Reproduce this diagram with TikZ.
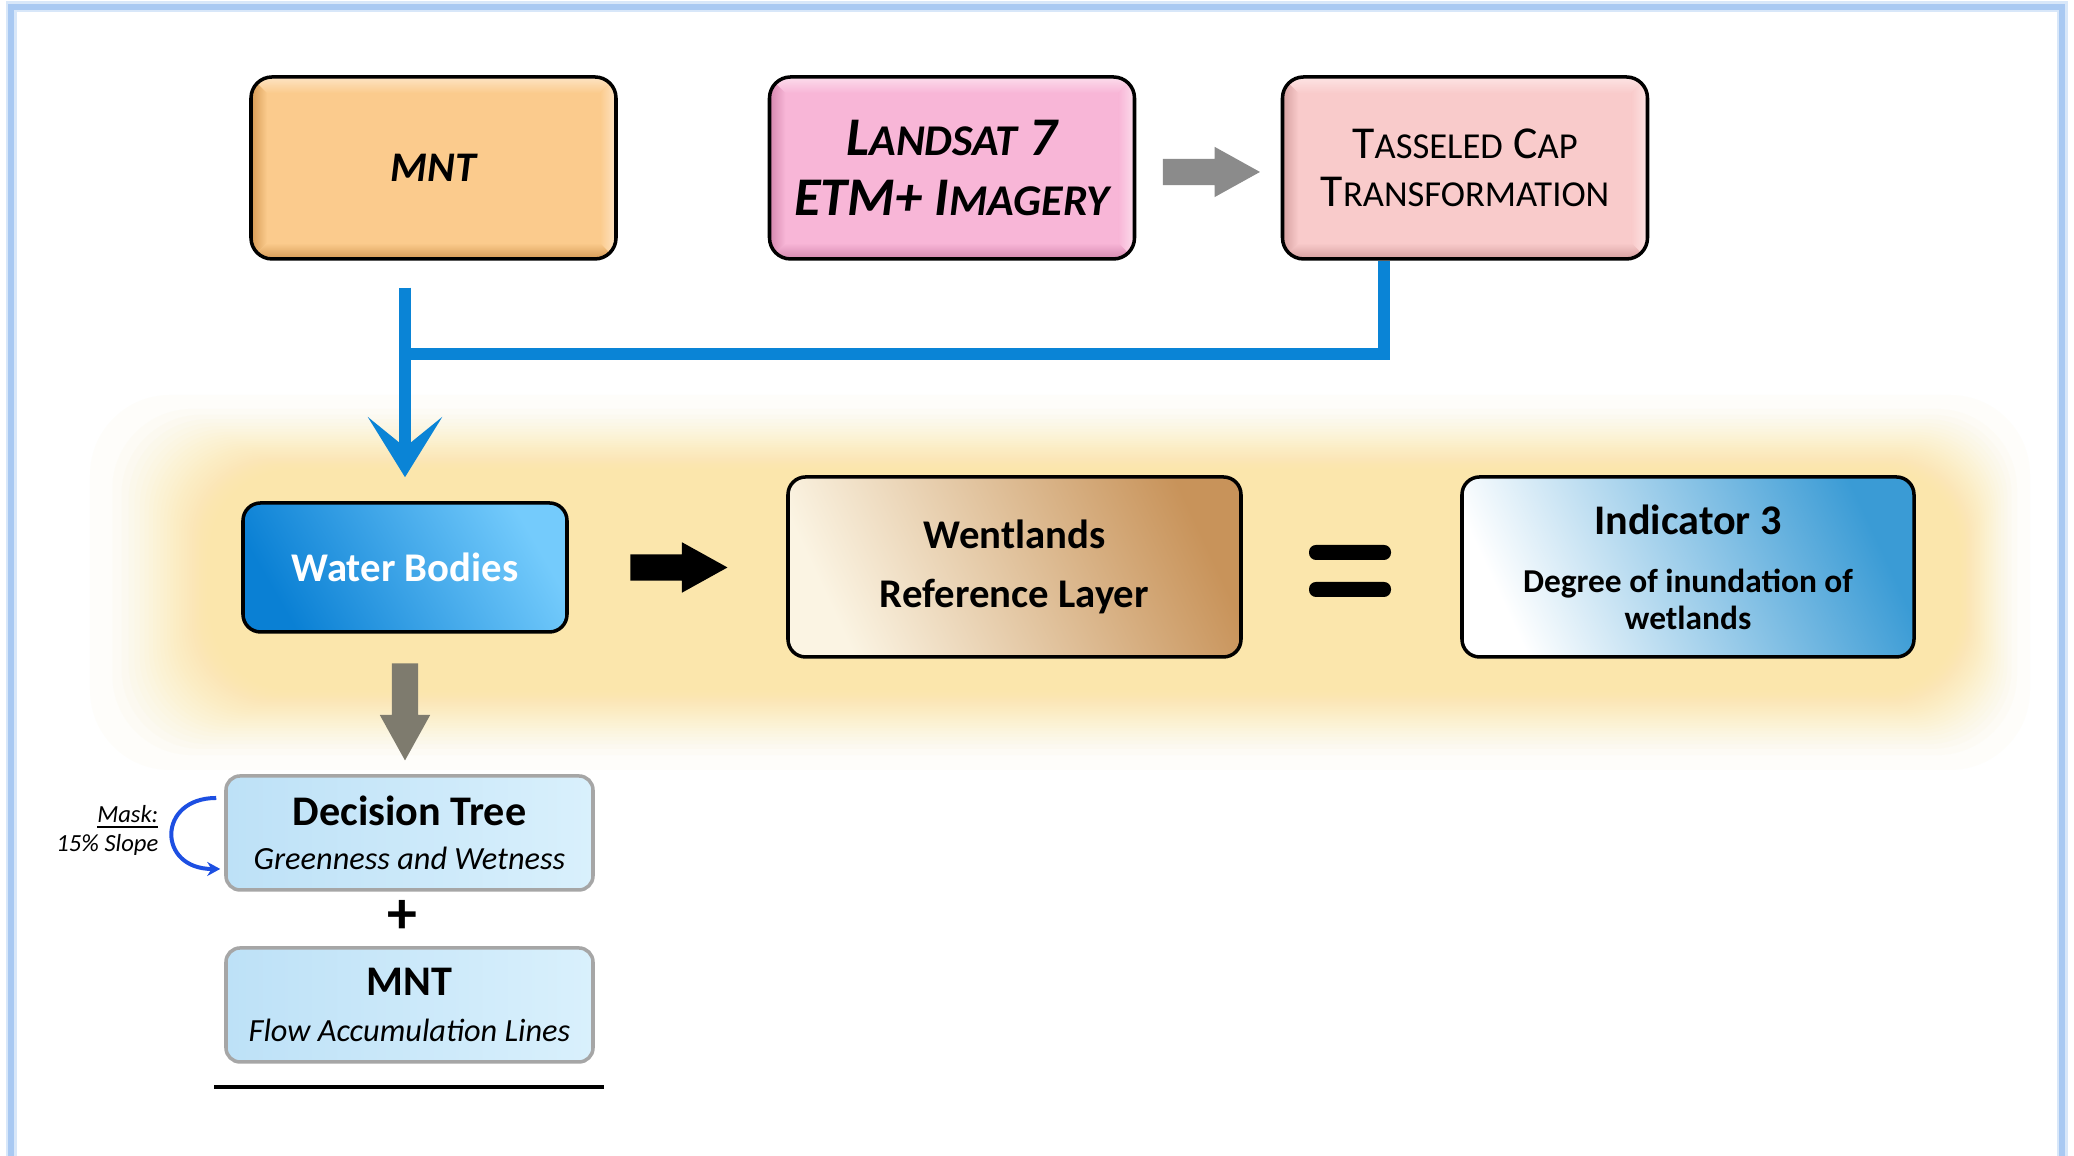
\documentclass[tikz,border=0pt]{standalone}
\usepackage{fontspec}
\setmainfont{Carlito}
\usetikzlibrary{
  arrows.meta,
  positioning,
  calc,
  shapes.arrows,
}
\definecolor{framebl}{HTML}{A9C9F2}
\definecolor{glowyel}{HTML}{FBE69E}
\definecolor{flowblue}{HTML}{0A84D6}
\definecolor{maskblue}{HTML}{1D4FE2}
\definecolor{peach}{HTML}{FBCB8D}
\definecolor{peachdk}{HTML}{D69A55}
\definecolor{peachlt}{HTML}{FEE4C4}
\definecolor{pinkbox}{HTML}{F8B6D7}
\definecolor{pinkdk}{HTML}{D487AE}
\definecolor{pinklt}{HTML}{FCDDEC}
\definecolor{rosy}{HTML}{F9CBCB}
\definecolor{rosydk}{HTML}{D59F9F}
\definecolor{rosylt}{HTML}{FDE4E4}
\definecolor{wbdark}{HTML}{0A80D4}
\definecolor{wbmid}{HTML}{1698E6}
\definecolor{wblight}{HTML}{74CBFC}
\definecolor{tancream}{HTML}{FBF4E3}
\definecolor{tandk}{HTML}{C8935A}
\definecolor{indblue}{HTML}{3A9BD5}
\definecolor{paleblue}{HTML}{BDE1F7}
\definecolor{paleblue2}{HTML}{D9F0FC}
\definecolor{boxgrey}{HTML}{A6A6A6}
\definecolor{arrgrey}{HTML}{8B8B8B}
\definecolor{olivegrey}{HTML}{7E7B6E}
\newcommand{\lsc}[1]{{\fontsize{12.5}{17}\selectfont #1}}
\newcommand{\tsc}[1]{{\fontsize{10.4}{13.5}\selectfont #1}}
\tikzset{
  >=Stealth,
  bevel/.style n args={3}{
    fill=#1,
    path picture={
      \path (path picture bounding box.south west) coordinate (bsw)
            (path picture bounding box.north east) coordinate (bne);
      \shade[sharp corners, left color=#2, right color=#1]
        (bsw) -- (bsw|-bne) -- ($(bsw|-bne)+(0.16,-0.16)$) -- ($(bsw)+(0.16,0.16)$) -- cycle;
      \shade[sharp corners, top color=#1, bottom color=#2]
        (bsw) -- ($(bsw)+(0.16,0.16)$) -- ($(bne|-bsw)+(-0.16,0.16)$) -- (bne|-bsw) -- cycle;
      \shade[sharp corners, top color=#3, bottom color=#1]
        (bsw|-bne) -- (bne) -- ($(bne)+(-0.16,-0.16)$) -- ($(bsw|-bne)+(0.16,-0.16)$) -- cycle;
      \shade[sharp corners, left color=#1, right color=#3]
        (bne) -- (bne|-bsw) -- ($(bne|-bsw)+(-0.16,0.16)$) -- ($(bne)+(-0.16,-0.16)$) -- cycle;
    }
  },
  topbox/.style={
    draw=black,
    line width=1pt,
    rounded corners=6pt,
    minimum width=3.65cm,
    minimum height=1.82cm,
    inner sep=0pt,
    align=center,
  },
  glossbox/.style={
    draw=black,
    line width=1pt,
    rounded corners=5pt,
    inner sep=0pt,
    align=center,
  },
  palebox/.style={
    draw=boxgrey,
    line width=1pt,
    rounded corners=4pt,
    left color=paleblue,
    right color=paleblue2,
    minimum width=3.67cm,
    minimum height=1.14cm,
    inner sep=0pt,
    align=center,
  },
  blockarrow/.style={
    single arrow,
    fill=#1,
    draw=none,
    anchor=tail,
    minimum height=0.97cm,
    minimum width=0.49cm,
    single arrow head extend=0.12cm,
    single arrow tip angle=58,
    single arrow head indent=0pt,
    inner sep=0.125cm,
  },
  flowline/.style={draw=flowblue, line width=0.12cm},
}

\begin{document}
\begin{tikzpicture}[x=1cm,y=1cm]
  \useasboundingbox (0,0) rectangle (20.74,11.56);
  \fill[white] (0,0) rectangle (20.74,11.56);

  % page frame
  \draw[framebl!45, line width=0.11cm] (0.11,0) -- (0.11,11.49) -- (20.62,11.49) -- (20.62,0);
  \draw[framebl, line width=0.06cm] (0.11,0) -- (0.11,11.49) -- (20.62,11.49) -- (20.62,0);

  % soft yellow glow behind the middle row
  \foreach \i in {0,...,29} {
    \pgfmathsetmacro{\f}{sqrt(\i/29)}
    \fill[glowyel, opacity=0.05, rounded corners=0.8cm]
      (0.90+1.20*\f,3.86+0.80*\f) rectangle (20.30-0.70*\f,7.61-0.75*\f);
  }

  % top row: inputs
  \node[topbox, bevel={peach}{peachdk}{peachlt},
        font=\fontsize{12}{14}\selectfont\bfseries\itshape] (mnt) at (4.335,9.88) {MNT};
  \node[topbox, bevel={pinkbox}{pinkdk}{pinklt},
        font=\fontsize{15.5}{17}\selectfont\bfseries\itshape] (landsat) at (9.52,9.88)
        {L\lsc{ANDSAT} 7\\ETM+ I\lsc{MAGERY}};
  \node[topbox, bevel={rosy}{rosydk}{rosylt},
        font=\fontsize{13}{13.5}\selectfont] (tasseled) at (14.65,9.88)
        {T\tsc{ASSELED} C\tsc{AP}\\T\tsc{RANSFORMATION}};
  \node[blockarrow=arrgrey] (capArrow) at ($(landsat.east)+(0.26,-0.04)$) {};

  % middle row
  \node[glossbox, left color=wbdark, middle color=wbmid, right color=wblight, shading angle=120,
        minimum width=3.24cm, minimum height=1.29cm, text=white,
        font=\fontsize{11.6}{14}\selectfont\bfseries] (water) at (4.05,5.885) {Water Bodies};
  \node[glossbox, left color=tancream, right color=tandk, shading angle=115,
        minimum width=4.53cm, minimum height=1.80cm,
        font=\fontsize{11.6}{17}\selectfont\bfseries] (wetref) at (10.145,5.89)
        {Wentlands\\Reference Layer};
  \node[glossbox, left color=white, right color=indblue, shading angle=115,
        minimum width=4.52cm, minimum height=1.80cm,
        font=\fontsize{9.5}{10.5}\selectfont\bfseries] (indicator) at (16.88,5.89)
        {{\fontsize{12}{14}\selectfont Indicator 3}\\[6pt]Degree of inundation of\\wetlands};
  \node[blockarrow=black] (resArrow) at ($(water.east)+(0.61,0)$) {};

  % equals sign
  \fill[rounded corners=2pt] (13.09,5.96) rectangle (13.91,6.11);
  \fill[rounded corners=2pt] (13.09,5.59) rectangle (13.91,5.74);

  % bottom stack
  \node[palebox, font=\fontsize{9.2}{12.5}\selectfont] (dtree) at (4.095,3.23)
        {{\fontsize{12}{12.5}\selectfont\bfseries Decision Tree}\\\textit{Greenness and Wetness}};
  \node[font=\fontsize{17}{17}\selectfont\bfseries] (plus) at (4.02,2.39) {+};
  \node[palebox, font=\fontsize{9.2}{13}\selectfont] (mntflow) at (4.095,1.51)
        {{\fontsize{12}{13}\selectfont\bfseries MNT}\\\textit{Flow Accumulation Lines}};
  \node[blockarrow=olivegrey, shape border rotate=270] (downArrow)
        at ($(water.south)+(0,-0.29)$) {};
  \draw[line width=0.04cm] (2.14,0.69) -- (6.04,0.69);

  \node[anchor=east, align=right, inner sep=0pt,
        font=\fontsize{7}{8.25}\selectfont\itshape] (mask) at (1.59,3.26)
        {\underline{Mask:}\\15\% Slope};
  \draw[maskblue, line width=0.04cm, -{Stealth[length=0.13cm, width=0.14cm]}]
    ($(dtree.west)+(-0.08,0.35)$) .. controls (1.57,3.58) and (1.57,2.87) .. ($(dtree.west)+(-0.04,-0.36)$);

  % blue feed lines
  \coordinate (mntout) at ($(mnt.south -| water.north)+(0,-0.27)$);
  \coordinate (join) at (mntout |- 0,8.02);
  \draw[flowline] ($(tasseled.south)+(-0.81,0)$) |- (join);
  \draw[flowline, -{Stealth[length=0.6cm, width=0.74cm, inset=0.3cm]}]
    (mntout) -- ($(water.north)+(0,0.24)$);
\end{tikzpicture}
\end{document}
